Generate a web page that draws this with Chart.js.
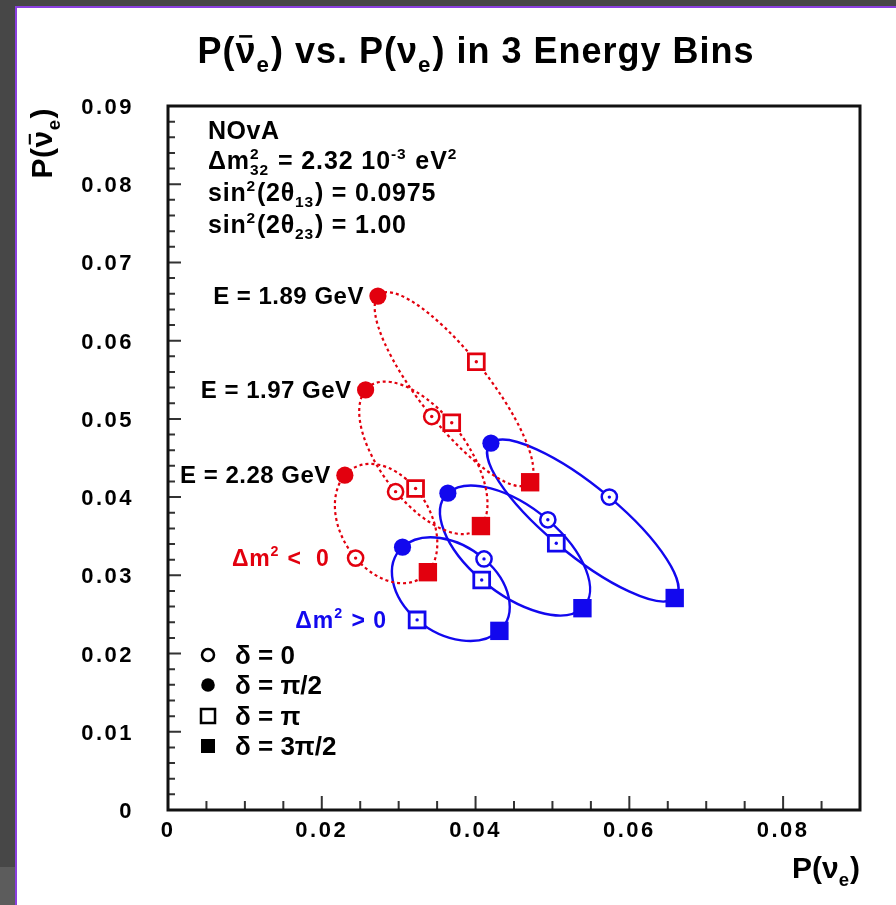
<!DOCTYPE html>
<html>
<head>
<meta charset="utf-8">
<title>P(anti-nu_e) vs. P(nu_e)</title>
<script src="https://cdn.jsdelivr.net/npm/chart.js@4.4.1/dist/chart.umd.min.js"></script>
<style>
  html, body { margin: 0; padding: 0; }
  body { width: 896px; height: 905px; background: #474747; position: relative; overflow: hidden; }
  #sheet { position: absolute; left: 15px; top: 6px; right: 0; bottom: 0; background: #fff;
           border-left: 2px solid #8b3fe0; border-top: 2px solid #8b3fe0; }
  #corner { position: absolute; left: 0; top: 867px; width: 15px; height: 38px; background: #5c5c5c; }
  #plot { position: absolute; left: 0; top: 0; }
</style>
</head>
<body>
<div id="sheet"></div>
<div id="corner"></div>
<canvas id="plot" width="896" height="905"></canvas>
<script>
// x = P(nu_e), y = P(anti-nu_e); one entry per energy bin
const energyBins = ['E = 1.89 GeV', 'E = 1.97 GeV', 'E = 2.28 GeV'];
const deltaLabels = ['δ = 0', 'δ = π/2', 'δ = π', 'δ = 3π/2'];

// inverted hierarchy, dm^2 < 0
const ihDelta0       = [[0.0343, 0.0503], [0.0296, 0.0407], [0.0244, 0.0322]];
const ihDeltaHalfPi  = [[0.0273, 0.0657], [0.0257, 0.0537], [0.0230, 0.0428]];
const ihDeltaPi      = [[0.0401, 0.0573], [0.0369, 0.0495], [0.0322, 0.0411]];
const ihDelta3HalfPi = [[0.0471, 0.0419], [0.0407, 0.0363], [0.0338, 0.0304]];

// normal hierarchy, dm^2 > 0
const nhDelta0       = [[0.0574, 0.0400], [0.0494, 0.0371], [0.0411, 0.0321]];
const nhDeltaHalfPi  = [[0.0420, 0.0469], [0.0364, 0.0405], [0.0305, 0.0336]];
const nhDeltaPi      = [[0.0505, 0.0341], [0.0408, 0.0294], [0.0324, 0.0243]];
const nhDelta3HalfPi = [[0.0659, 0.0271], [0.0539, 0.0258], [0.0431, 0.0229]];

const xTickLabels = ['0', '0.02', '0.04', '0.06', '0.08'];
const yTickLabels = ['0', '0.01', '0.02', '0.03', '0.04', '0.05', '0.06', '0.07', '0.08', '0.09'];

const RED = 'rgb(226,0,14)';
const BLUE = 'rgb(18,8,238)';
const FONT = '"Liberation Sans", Arial, Helvetica, sans-serif';

// marker look for delta = 0, pi/2, pi, 3pi/2
const markerStyles = [
  { style: 'circle', radius: 7.6, open: true, bw: 2.5 },
  { style: 'circle', radius: 8.6, open: false, bw: 0 },
  { style: 'rect', radius: 11.2, open: true, bw: 2.8 },
  { style: 'rect', radius: 13, open: false, bw: 0 }
];

const ihSets = [ihDelta0, ihDeltaHalfPi, ihDeltaPi, ihDelta3HalfPi];
const nhSets = [nhDelta0, nhDeltaHalfPi, nhDeltaPi, nhDelta3HalfPi];

function markerDatasets(sets, color) {
  const out = [];
  sets.forEach((pts, i) => {
    const m = markerStyles[i];
    const data = pts.map(p => ({ x: p[0], y: p[1] }));
    out.push({
      data,
      order: 1,
      showLine: false,
      pointStyle: m.style,
      pointRadius: m.radius,
      pointBorderWidth: m.bw,
      pointBorderColor: color,
      pointBackgroundColor: m.open ? '#fff' : color
    });
    if (m.open) {
      // small centre dot inside the hollow markers, drawn on top
      out.push({ data, order: 0, showLine: false, pointStyle: 'circle', pointRadius: 1.7,
                 pointBorderWidth: 0, pointBackgroundColor: color });
    }
  });
  return out;
}

function setFont(ctx, size) { ctx.font = `bold ${size}px ${FONT}`; }

// parts: plain strings, {bar: 'x'} for overlined text, {sub, sup} for indices
function richWidth(ctx, parts, size) {
  let w = 0;
  for (const p of parts) {
    if (typeof p === 'string' || p.bar) {
      setFont(ctx, size);
      w += ctx.measureText(typeof p === 'string' ? p : p.bar).width;
    } else {
      setFont(ctx, size * 0.62);
      w += Math.max(p.sub ? ctx.measureText(p.sub).width : 0, p.sup ? ctx.measureText(p.sup).width : 0) + 1;
    }
  }
  return w;
}

function drawRich(ctx, parts, x, y, size, color, align, spacing) {
  ctx.save();
  ctx.letterSpacing = (spacing || 0) + 'px';
  const w = richWidth(ctx, parts, size);
  let cx = align === 'right' ? x - w : align === 'center' ? x - w / 2 : x;
  ctx.fillStyle = color;
  ctx.strokeStyle = color;
  ctx.textAlign = 'left';
  ctx.textBaseline = 'alphabetic';
  for (const p of parts) {
    if (typeof p === 'string' || p.bar) {
      const t = typeof p === 'string' ? p : p.bar;
      setFont(ctx, size);
      ctx.fillText(t, cx, y);
      const tw = ctx.measureText(t).width;
      if (p.bar) {
        ctx.lineWidth = size * 0.07;
        ctx.beginPath();
        ctx.moveTo(cx + size * 0.1, y - size * 0.74);
        ctx.lineTo(cx + tw - size * 0.12, y - size * 0.74);
        ctx.stroke();
      }
      cx += tw;
    } else {
      setFont(ctx, size * 0.62);
      let sw = 0;
      if (p.sub) { ctx.fillText(p.sub, cx, y + size * 0.25); sw = ctx.measureText(p.sub).width; }
      if (p.sup) { ctx.fillText(p.sup, cx, y - size * 0.42); sw = Math.max(sw, ctx.measureText(p.sup).width); }
      cx += sw + 1;
    }
  }
  ctx.restore();
}

const isMultiple = (v, step) => Math.abs(v / step - Math.round(v / step)) < 1e-6;

// closed curve through the four delta points of each energy bin
function drawLoops(ctx, xs, ys, sets, color, dash, width) {
  const k = 0.5523;
  ctx.strokeStyle = color;
  ctx.lineWidth = width;
  ctx.setLineDash(dash);
  for (let i = 0; i < energyBins.length; i++) {
    const p = sets.map(s => [xs.getPixelForValue(s[i][0]), ys.getPixelForValue(s[i][1])]);
    const a = [(p[0][0] - p[2][0]) / 2, (p[0][1] - p[2][1]) / 2];
    const b = [(p[1][0] - p[3][0]) / 2, (p[1][1] - p[3][1]) / 2];
    ctx.beginPath();
    ctx.moveTo(p[0][0], p[0][1]);
    ctx.bezierCurveTo(p[0][0] + k * b[0], p[0][1] + k * b[1], p[1][0] + k * a[0], p[1][1] + k * a[1], p[1][0], p[1][1]);
    ctx.bezierCurveTo(p[1][0] - k * a[0], p[1][1] - k * a[1], p[2][0] + k * b[0], p[2][1] + k * b[1], p[2][0], p[2][1]);
    ctx.bezierCurveTo(p[2][0] - k * b[0], p[2][1] - k * b[1], p[3][0] - k * a[0], p[3][1] - k * a[1], p[3][0], p[3][1]);
    ctx.bezierCurveTo(p[3][0] + k * a[0], p[3][1] + k * a[1], p[0][0] - k * b[0], p[0][1] - k * b[1], p[0][0], p[0][1]);
    ctx.closePath();
    ctx.stroke();
  }
  ctx.setLineDash([]);
}

const loops = {
  id: 'loops',
  beforeDatasetsDraw(chart) {
    const { ctx, chartArea: ca, scales: { x, y } } = chart;
    ctx.save();
    ctx.beginPath();
    ctx.rect(ca.left, ca.top, ca.width, ca.height);
    ctx.clip();
    drawLoops(ctx, x, y, nhSets, BLUE, [], 2.4);
    drawLoops(ctx, x, y, ihSets, RED, [3, 3], 2.2);
    ctx.restore();
  }
};

const decorations = {
  id: 'decorations',
  afterDraw(chart) {
    const { ctx, chartArea: ca, scales: { x: xs, y: ys } } = chart;
    ctx.save();

    // tick marks, inside the frame
    ctx.strokeStyle = '#333';
    ctx.lineWidth = 2;
    ctx.beginPath();
    xs.ticks.forEach(t => {
      const px = xs.getPixelForValue(t.value);
      ctx.moveTo(px, ca.bottom);
      ctx.lineTo(px, ca.bottom - (isMultiple(t.value, 0.02) ? 14 : 9));
    });
    ys.ticks.forEach(t => {
      const py = ys.getPixelForValue(t.value);
      ctx.moveTo(ca.left, py);
      ctx.lineTo(ca.left + (isMultiple(t.value, 0.01) ? 13 : 7), py);
    });
    ctx.stroke();

    // frame
    ctx.strokeStyle = '#111';
    ctx.lineWidth = 3;
    ctx.strokeRect(ca.left, ca.top, ca.width, ca.height);

    // tick labels
    xTickLabels.forEach(l => {
      drawRich(ctx, [l], xs.getPixelForValue(parseFloat(l)), ca.bottom + 27, 22, '#000', 'center', 2.5);
    });
    yTickLabels.forEach(l => {
      drawRich(ctx, [l], 134, ys.getPixelForValue(parseFloat(l)) + 8, 22, '#000', 'right', 2.5);
    });

    // title
    drawRich(ctx, ['P(', { bar: 'ν' }, { sub: 'e' }, ') vs. P(', 'ν', { sub: 'e' }, ') in 3 Energy Bins'],
             476, 63, 36, '#000', 'center', 1);

    // axis titles
    drawRich(ctx, ['P(', 'ν', { sub: 'e' }, ')'], ca.right, 878, 30, '#000', 'right');
    ctx.save();
    ctx.translate(52, ca.top + 2);
    ctx.rotate(-Math.PI / 2);
    drawRich(ctx, ['P(', { bar: 'ν' }, { sub: 'e' }, ')'], 0, 0, 30, '#000', 'right', 0.5);
    ctx.restore();

    // oscillation parameters
    const ix = ca.left + 40;
    drawRich(ctx, ['NOvA'], ix, 139, 25, '#000', 'left', 0.5);
    drawRich(ctx, ['Δm', { sub: '32', sup: '2' }, ' = 2.32 10', { sup: '-3' }, ' eV', { sup: '2' }], ix, 169, 25, '#000', 'left', 0.9);
    drawRich(ctx, ['sin', { sup: '2' }, '(2θ', { sub: '13' }, ') = 0.0975'], ix, 201, 25, '#000', 'left', 0.8);
    drawRich(ctx, ['sin', { sup: '2' }, '(2θ', { sub: '23' }, ') = 1.00'], ix, 233, 25, '#000', 'left', 0.8);

    // energy labels next to the delta = pi/2 points of the inverted hierarchy
    energyBins.forEach((label, i) => {
      const px = xs.getPixelForValue(ihDeltaHalfPi[i][0]);
      const py = ys.getPixelForValue(ihDeltaHalfPi[i][1]);
      drawRich(ctx, [label], px - 14, py + 8, 24, '#000', 'right', 0.5);
    });

    // hierarchy labels
    const rx = xs.getPixelForValue(ihDelta0[2][0]);
    const ry = ys.getPixelForValue(ihDelta0[2][1]);
    drawRich(ctx, ['Δm', { sup: '2' }, ' <  0'], rx - 26, ry + 8, 23, RED, 'right', 0.8);
    const bx = xs.getPixelForValue(nhDeltaPi[2][0]);
    const by = ys.getPixelForValue(nhDeltaPi[2][1]);
    drawRich(ctx, ['Δm', { sup: '2' }, ' > 0'], bx - 30, by + 8, 23, BLUE, 'right', 1);

    // delta legend
    const legendY = [655, 685, 716, 746];
    deltaLabels.forEach((label, i) => {
      const m = markerStyles[i];
      const cy = legendY[i];
      ctx.fillStyle = '#000';
      ctx.strokeStyle = '#000';
      ctx.lineWidth = 2.5;
      ctx.beginPath();
      if (m.style === 'circle') {
        ctx.arc(208, cy, m.open ? 6 : 6.8, 0, Math.PI * 2);
      } else {
        ctx.rect(201, cy - 7, 14, 14);
      }
      if (m.open) ctx.stroke(); else ctx.fill();
      drawRich(ctx, [label], 235, cy + 9, 26, '#000', 'left');
    });

    ctx.restore();
  }
};

new Chart(document.getElementById('plot'), {
  type: 'scatter',
  data: { datasets: [...markerDatasets(nhSets, BLUE), ...markerDatasets(ihSets, RED)] },
  options: {
    responsive: false,
    animation: false,
    events: [],
    layout: { padding: { left: 0, right: 36, top: 106, bottom: 0 } },
    plugins: { legend: { display: false }, tooltip: { enabled: false }, title: { display: false } },
    scales: {
      x: {
        type: 'linear', min: 0, max: 0.09,
        ticks: { stepSize: 0.005, display: false, autoSkip: false },
        grid: { display: false, drawTicks: false },
        border: { display: false },
        afterFit: s => { s.height = 95; }
      },
      y: {
        type: 'linear', min: 0, max: 0.09,
        ticks: { stepSize: 0.002, display: false, autoSkip: false },
        grid: { display: false, drawTicks: false },
        border: { display: false },
        afterFit: s => { s.width = 168; }
      }
    }
  },
  plugins: [loops, decorations]
});
</script>
</body>
</html>
